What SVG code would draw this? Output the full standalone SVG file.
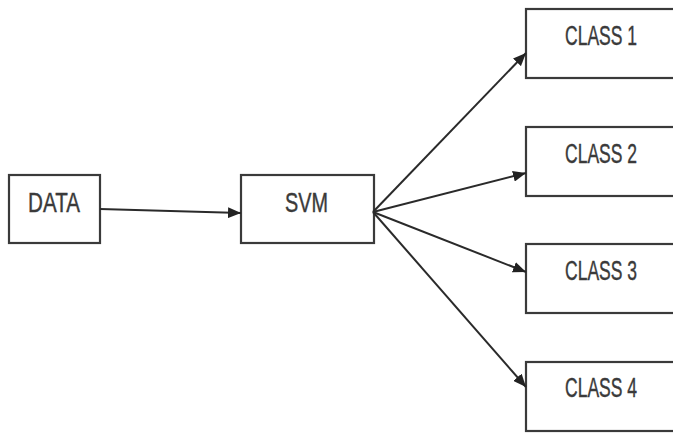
<svg xmlns="http://www.w3.org/2000/svg" width="673" height="433" viewBox="0 0 673 433">
  <defs>
    <marker id="arrow" viewBox="0 0 13 11" refX="13" refY="5.5" markerWidth="13" markerHeight="11" markerUnits="userSpaceOnUse" orient="auto">
      <path d="M0,0 L13,5.5 L0,11 z" fill="#222"/>
    </marker>
    <style>
      .box { fill: #ffffff; stroke: #3a3a3a; stroke-width: 2.2; }
      .label { font-family: "Liberation Sans", Arial, sans-serif; font-size: 27px; fill: #3a3a3a; stroke: #3a3a3a; stroke-width: 0.4; }
      .edge { stroke: #2a2a2a; stroke-width: 2; fill: none; marker-end: url(#arrow); }
    </style>
  </defs>
  <rect width="673" height="433" fill="#ffffff"/>

  <g id="data">
    <rect class="box" x="9" y="175" width="91" height="68"/>
    <text class="label" x="28" y="212" textLength="52" lengthAdjust="spacingAndGlyphs">DATA</text>
  </g>
  <g id="svm">
    <rect class="box" x="241" y="175" width="133" height="68"/>
    <text class="label" x="285" y="212" textLength="43" lengthAdjust="spacingAndGlyphs">SVM</text>
  </g>
  <g id="class1">
    <rect class="box" x="526" y="9" width="160" height="69"/>
    <text class="label" x="565" y="45" textLength="72" lengthAdjust="spacingAndGlyphs">CLASS 1</text>
  </g>
  <g id="class2">
    <rect class="box" x="526" y="127" width="160" height="69"/>
    <text class="label" x="565" y="163" textLength="72" lengthAdjust="spacingAndGlyphs">CLASS 2</text>
  </g>
  <g id="class3">
    <rect class="box" x="526" y="244" width="160" height="69"/>
    <text class="label" x="565" y="280" textLength="72" lengthAdjust="spacingAndGlyphs">CLASS 3</text>
  </g>
  <g id="class4">
    <rect class="box" x="526" y="362" width="160" height="69"/>
    <text class="label" x="565" y="397" textLength="72" lengthAdjust="spacingAndGlyphs">CLASS 4</text>
  </g>

  <g id="connectors">
    <line class="edge" x1="100" y1="209" x2="241" y2="213"/>
    <line class="edge" x1="373" y1="212" x2="526" y2="53"/>
    <line class="edge" x1="373" y1="212" x2="526" y2="173"/>
    <line class="edge" x1="373" y1="212" x2="526" y2="272"/>
    <line class="edge" x1="373" y1="212" x2="526" y2="387"/>
  </g>
</svg>
